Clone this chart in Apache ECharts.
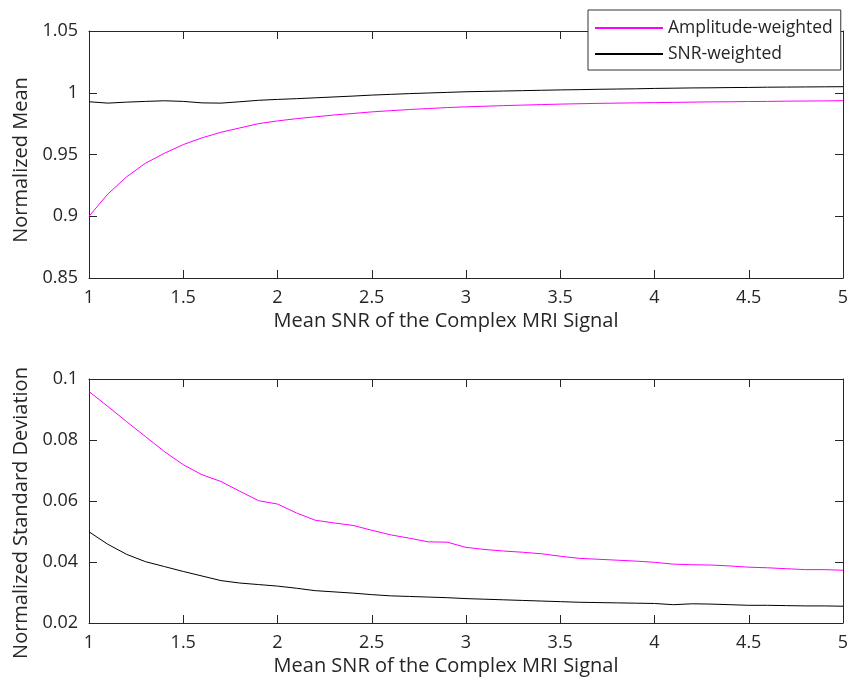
<!DOCTYPE html>
<html>
<head>
<meta charset="utf-8">
<script src="https://cdn.jsdelivr.net/npm/echarts@6/dist/echarts.min.js"></script>
<style>
html,body{margin:0;padding:0;background:#fff;}
#chart{width:860px;height:689px;}
</style>
</head>
<body>
<div id="chart"></div>
<script>
const snr = [1.0,1.1,1.2,1.3,1.4,1.5,1.6,1.7,1.8,1.9,2.0,2.1,2.2,2.3,2.4,2.5,2.6,2.7,2.8,2.9,3.0,
  3.1,3.2,3.3,3.4,3.5,3.6,3.7,3.8,3.9,4.0,4.1,4.2,4.3,4.4,4.5,4.6,4.7,4.8,4.9,5.0];

const meanAmplitude = [0.900,0.918,0.932,0.943,0.951,0.958,0.9635,0.968,0.9715,0.975,0.9772,
  0.979,0.9805,0.982,0.9832,0.9845,0.9855,0.9864,0.9872,0.988,0.9886,
  0.9891,0.9896,0.990,0.9904,0.9908,0.9911,0.9914,0.9916,0.9918,0.992,
  0.9922,0.9924,0.9926,0.9927,0.9929,0.993,0.9932,0.9933,0.9934,0.9936];

const meanSNR = [0.9927,0.9916,0.9924,0.993,0.9935,0.993,0.9918,0.9916,0.9927,0.9939,0.9946,
  0.9952,0.9959,0.9966,0.9973,0.9981,0.9987,0.9993,0.9998,1.0003,1.0008,
  1.0011,1.0014,1.0017,1.002,1.0023,1.0025,1.0028,1.003,1.0032,1.0035,
  1.0037,1.0039,1.004,1.0042,1.0043,1.0045,1.0046,1.0047,1.0048,1.0049];

const sdAmplitude = [0.0959,0.0910,0.0860,0.0811,0.0762,0.0719,0.0686,0.0664,0.0632,0.0601,0.0590,
  0.0561,0.0537,0.0528,0.0520,0.0504,0.0489,0.0478,0.0466,0.0465,0.0448,
  0.0441,0.0436,0.0432,0.0427,0.0419,0.0412,0.0409,0.0406,0.0403,0.0399,
  0.0393,0.0391,0.0390,0.0387,0.0383,0.0381,0.0378,0.0375,0.0375,0.0373];

const sdSNR = [0.0499,0.0458,0.0425,0.0401,0.0385,0.0369,0.0354,0.0339,0.0331,0.0326,0.0321,
  0.0314,0.0306,0.0302,0.0298,0.0293,0.0289,0.0287,0.0285,0.0283,0.0280,
  0.0278,0.0276,0.0274,0.0272,0.0270,0.0268,0.0267,0.0266,0.0265,0.0264,
  0.0260,0.0263,0.0262,0.0260,0.0258,0.0258,0.0257,0.0256,0.0256,0.0255];

const seriesNames = ['Amplitude-weighted', 'SNR-weighted'];
const xName = 'Mean SNR of the Complex MRI Signal';
const yNameTop = 'Normalized Mean';
const yNameBottom = 'Normalized Standard Deviation';

const FONT = '"Open Sans", sans-serif';
const TXT = '#262626';
const AX = '#262626';

function pairs(xs, ys){ return xs.map((x,i)=>[x, ys[i]]); }

function xAx(grid, showLabels, pos){
  return {
    type:'value', gridIndex:grid, min:1, max:5, interval:0.5, position:pos,
    name: showLabels ? xName : '', nameLocation:'middle', nameGap:33,
    nameTextStyle:{color:TXT, fontSize:20, fontFamily:FONT, padding:[0,40,0,0]},
    axisLine:{show:true, onZero:false, lineStyle:{color:AX, width:1}},
    axisTick:{show:true, inside:true, length:8, lineStyle:{color:AX, width:1}},
    axisLabel:{show:showLabels, color:TXT, fontSize:18, fontFamily:FONT, margin:11},
    splitLine:{show:false}
  };
}
function yAx(grid, min, max, interval, name, showLabels, pos, pad){
  return {
    type:'value', gridIndex:grid, min:min, max:max, interval:interval, position:pos,
    name: showLabels ? name : '', nameLocation:'middle', nameGap:52,
    nameTextStyle:{color:TXT, fontSize:20, fontFamily:FONT, padding:pad},
    axisLine:{show:true, onZero:false, lineStyle:{color:AX, width:1}},
    axisTick:{show:true, inside:true, length:8, lineStyle:{color:AX, width:1}},
    axisLabel:{show:showLabels, color:TXT, fontSize:18, fontFamily:FONT, margin:11},
    splitLine:{show:false}
  };
}

const chart = echarts.init(document.getElementById('chart'), null, {renderer:'canvas'});
chart.setOption({
  animation:false,
  backgroundColor:'#fff',
  grid:[
    {left:89, right:17, top:31, height:247},
    {left:89, right:17, top:379, height:244}
  ],
  xAxis:[
    xAx(0, true, 'bottom'), xAx(0, false, 'top'),
    xAx(1, true, 'bottom'), xAx(1, false, 'top')
  ],
  yAxis:[
    yAx(0, 0.85, 1.05, 0.05, yNameTop, true, 'left', [0,11,0,0]),
    yAx(0, 0.85, 1.05, 0.05, yNameTop, false, 'right', 0),
    yAx(1, 0.02, 0.1, 0.02, yNameBottom, true, 'left', [0,24,0,0]),
    yAx(1, 0.02, 0.1, 0.02, yNameBottom, false, 'right', 0)
  ],
  legend:{
    data:seriesNames,
    orient:'vertical', left:588, top:10,
    padding:[9,8,7,7],
    icon:'rect',
    itemWidth:68, itemHeight:2, itemGap:8,
    backgroundColor:'#fff', borderColor:'#333', borderWidth:1,
    textStyle:{color:TXT, fontSize:17.5, fontFamily:FONT},
    z:10
  },
  series:[
    {name:seriesNames[0], type:'line', xAxisIndex:0, yAxisIndex:0, data:pairs(snr, meanAmplitude),
     symbol:'none', lineStyle:{color:'#ff00ff', width:1}, itemStyle:{color:'#ff00ff'}},
    {name:seriesNames[1], type:'line', xAxisIndex:0, yAxisIndex:0, data:pairs(snr, meanSNR),
     symbol:'none', lineStyle:{color:'#000', width:1}, itemStyle:{color:'#000'}},
    {name:seriesNames[0], type:'line', xAxisIndex:2, yAxisIndex:2, data:pairs(snr, sdAmplitude),
     symbol:'none', lineStyle:{color:'#ff00ff', width:1}, itemStyle:{color:'#ff00ff'}},
    {name:seriesNames[1], type:'line', xAxisIndex:2, yAxisIndex:2, data:pairs(snr, sdSNR),
     symbol:'none', lineStyle:{color:'#000', width:1}, itemStyle:{color:'#000'}}
  ]
});
</script>
</body>
</html>
